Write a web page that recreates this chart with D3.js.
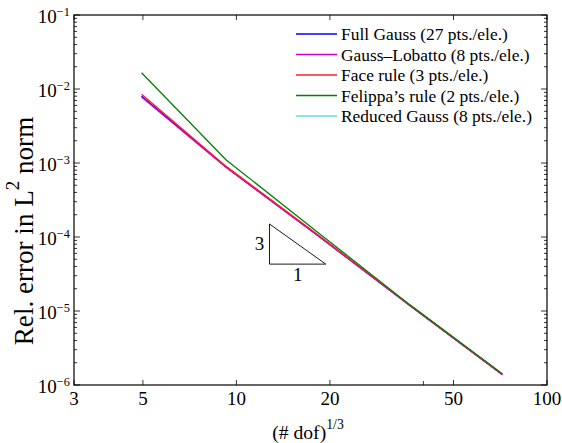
<html lang="en">
<head>
<meta charset="utf-8">
<script src="https://cdn.jsdelivr.net/npm/d3@7"></script>
<style>
  body { margin: 0; background: #fff; }
  text { font-family: "Liberation Serif", "Times New Roman", serif; fill: #000; }
</style>
</head>
<body>
<script>
// (# dof)^(1/3) for each mesh
var dofs = [4.95, 9.27, 18.3, 36.3, 71.8];

var fullGauss = [8.0e-3, 8.8e-4, 1.05e-4, 1.18e-5, 1.39e-6];
var gaussLobatto = [7.8e-3, 8.7e-4, 1.04e-4, 1.17e-5, 1.38e-6];
var faceRule = [8.5e-3, 9.0e-4, 1.07e-4, 1.19e-5, 1.40e-6];
var felippa = [1.66e-2, 1.1e-3, 1.15e-4, 1.2e-5, 1.42e-6];
var reducedGauss = [8.0e-3, 8.8e-4, 1.05e-4, 1.18e-5, 1.39e-6];

var seriesNames = ["Full Gauss (27 pts./ele.)", "Gauss\u2013Lobatto (8 pts./ele.)",
  "Face rule (3 pts./ele.)", "Felippa\u2019s rule (2 pts./ele.)", "Reduced Gauss (8 pts./ele.)"];
var seriesValues = [fullGauss, gaussLobatto, faceRule, felippa, reducedGauss];
var seriesColors = ["#0000ff", "#d000d0", "#ff2020", "#008000", "#66dddd"];
var drawOrder = [4, 0, 1, 2, 3];

var xTicks = [3, 5, 10, 20, 50, 100];
var xMinorTicks = [40];
var yExponents = [-6, -5, -4, -3, -2, -1];

// slope triangle (data coords)
var triX = [12.78, 19.4];
var triY = [4.3e-5, 1.5e-4];

var w = 562, h = 443;
var m = {left: 74, top: 15, right: 15, bottom: 58};
var iw = w - m.left - m.right, ih = h - m.top - m.bottom;

var svg = d3.select("body").append("svg").attr("width", w).attr("height", h);

// pick a font size so that a string gets a given width
function fitSize(str, target) {
  var t = svg.append("text").attr("font-size", "100px").text(str);
  var len = t.node().getComputedTextLength();
  t.remove();
  return 100 * target / len;
}
var tickSize = fitSize("10", 19);
var legendSize = fitSize(seriesNames[0], 167);
var xTitleSize = fitSize("(# dof)", 54);
var yTitleSize = fitSize("Rel. error in L norm", 218);

var x = d3.scaleLog().domain([3, 100]).range([m.left, m.left + iw]);
var y = d3.scaleLog().domain([1e-6, 1e-1]).range([m.top + ih, m.top]);

// minor y ticks
var yMinor = [];
for (var e = -6; e < -1; e++) {
  for (var k = 2; k <= 9; k++) yMinor.push(k * Math.pow(10, e));
}

var ticks = svg.append("g").attr("stroke", "#000").attr("stroke-width", 0.8);
yMinor.forEach(function(v) {
  ticks.append("line").attr("x1", m.left).attr("x2", m.left + 3).attr("y1", y(v)).attr("y2", y(v));
  ticks.append("line").attr("x1", m.left + iw).attr("x2", m.left + iw - 3).attr("y1", y(v)).attr("y2", y(v));
});
yExponents.forEach(function(e) {
  var v = Math.pow(10, e);
  ticks.append("line").attr("x1", m.left).attr("x2", m.left + 6).attr("y1", y(v)).attr("y2", y(v));
  ticks.append("line").attr("x1", m.left + iw).attr("x2", m.left + iw - 6).attr("y1", y(v)).attr("y2", y(v));
});
xTicks.forEach(function(v) {
  ticks.append("line").attr("x1", x(v)).attr("x2", x(v)).attr("y1", m.top + ih).attr("y2", m.top + ih - 5);
  ticks.append("line").attr("x1", x(v)).attr("x2", x(v)).attr("y1", m.top).attr("y2", m.top + 5);
});
xMinorTicks.forEach(function(v) {
  ticks.append("line").attr("x1", x(v)).attr("x2", x(v)).attr("y1", m.top + ih).attr("y2", m.top + ih - 4);
});

// axes box
svg.append("rect")
  .attr("x", m.left).attr("y", m.top)
  .attr("width", iw).attr("height", ih)
  .attr("fill", "none").attr("stroke", "#000").attr("stroke-width", 1.2);

// x tick labels
svg.append("g").selectAll("text")
  .data(xTicks)
  .enter()
  .append("text")
  .attr("x", function(d) { return x(d); })
  .attr("y", m.top + ih + 20)
  .attr("text-anchor", "middle")
  .attr("font-size", tickSize + "px")
  .text(function(d) { return d; });

// y tick labels
var yl = svg.append("g").selectAll("text")
  .data(yExponents)
  .enter()
  .append("text")
  .attr("x", m.left - 4)
  .attr("y", function(d) { return y(Math.pow(10, d)) + 8; })
  .attr("text-anchor", "end")
  .attr("font-size", tickSize + "px");
yl.append("tspan").text("10");
yl.append("tspan").attr("font-size", "65%").attr("dy", "-0.6em").text(function(d) { return "\u2212" + (-d); });

// axis titles
var xt = svg.append("text")
  .attr("x", 308).attr("y", 439)
  .attr("text-anchor", "middle")
  .attr("font-size", xTitleSize + "px");
xt.append("tspan").text("(# dof)");
xt.append("tspan").attr("font-size", "70%").attr("dy", "-0.75em").text("1/3");

var ytl = svg.append("text")
  .attr("transform", "translate(33,231) rotate(-90)")
  .attr("text-anchor", "middle")
  .attr("font-size", yTitleSize + "px");
ytl.append("tspan").text("Rel. error in L");
ytl.append("tspan").attr("font-size", "70%").attr("dy", "-0.75em").text("2");
ytl.append("tspan").attr("dy", "0.525em").text(" norm");

// series
var line = d3.line()
  .x(function(d, i) { return x(dofs[i]); })
  .y(function(d) { return y(d); });

drawOrder.forEach(function(s) {
  svg.append("path")
    .attr("d", line(seriesValues[s]))
    .attr("fill", "none")
    .attr("stroke", seriesColors[s])
    .attr("stroke-width", 1.3);
});

// slope triangle
svg.append("path")
  .attr("d", "M" + x(triX[0]) + "," + y(triY[1]) +
             "L" + x(triX[0]) + "," + y(triY[0]) +
             "L" + x(triX[1]) + "," + y(triY[0]) + "Z")
  .attr("fill", "none").attr("stroke", "#000").attr("stroke-width", 0.9);
svg.append("text")
  .attr("x", x(triX[0]) - 10).attr("y", (y(triY[0]) + y(triY[1])) / 2 + 6)
  .attr("text-anchor", "middle").attr("font-size", tickSize + "px").text("3");
svg.append("text")
  .attr("x", (x(triX[0]) + x(triX[1])) / 2).attr("y", y(triY[0]) + 17)
  .attr("text-anchor", "middle").attr("font-size", tickSize + "px").text("1");

// legend
var lg = svg.append("g");
seriesNames.forEach(function(name, i) {
  var ly = 34 + i * 20.5;
  lg.append("line")
    .attr("x1", 296).attr("x2", 337).attr("y1", ly).attr("y2", ly)
    .attr("stroke", seriesColors[i]).attr("stroke-width", 1.5);
  lg.append("text")
    .attr("x", 341).attr("y", ly + 6)
    .attr("font-size", legendSize + "px")
    .text(name);
});
</script>
</body>
</html>
